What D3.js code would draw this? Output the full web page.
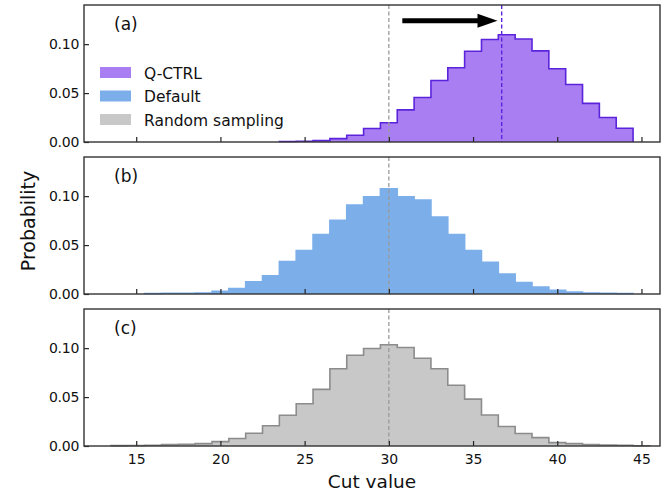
<!DOCTYPE html>
<html>
<head>
<meta charset="utf-8">
<script src="https://cdn.jsdelivr.net/npm/d3@7"></script>
<style>
  body { margin: 0; background: #fff; }
  text { font-family: "DejaVu Sans", sans-serif; fill: #111; }
</style>
</head>
<body>
<script>
var w = 664;
var h = 492;

// Cut value bins (unit width, centred on integers)
var qctrlCuts = [24, 25, 26, 27, 28, 29, 30, 31, 32, 33, 34, 35, 36, 37, 38, 39, 40, 41, 42, 43, 44];
var qctrlProbs = [0.0005, 0.0007, 0.0014, 0.0034, 0.0069, 0.0138, 0.0197, 0.0328, 0.0455, 0.0628, 0.0759,
  0.0928, 0.1048, 0.1096, 0.1052, 0.0931, 0.0749, 0.0588, 0.0395, 0.0251, 0.0141];

var defaultCuts = [16, 17, 18, 19, 20, 21, 22, 23, 24, 25, 26, 27, 28, 29, 30, 31, 32, 33, 34, 35, 36, 37, 38, 39, 40, 41, 42, 43, 44];
var defaultProbs = [0.0005, 0.0007, 0.0008, 0.001, 0.0028, 0.0055, 0.0124, 0.0186, 0.0331, 0.0445, 0.0607,
  0.0752, 0.091, 0.0993, 0.1076, 0.0993, 0.0959, 0.0786, 0.0607, 0.0445, 0.0324, 0.0203, 0.0117, 0.0072,
  0.0038, 0.0021, 0.001, 0.0007, 0.0005];

var randomCuts = [14, 15, 16, 17, 18, 19, 20, 21, 22, 23, 24, 25, 26, 27, 28, 29, 30, 31, 32, 33, 34, 35, 36, 37, 38, 39, 40, 41, 42, 43, 44, 45];
var randomProbs = [0.0004, 0.0005, 0.0007, 0.0014, 0.0018, 0.0024, 0.0045, 0.0076, 0.0131, 0.0207, 0.0314,
  0.0431, 0.0579, 0.079, 0.0928, 0.0997, 0.1034, 0.1007, 0.0897, 0.079, 0.0621, 0.0479, 0.0317, 0.02,
  0.0128, 0.0086, 0.0034, 0.0024, 0.0015, 0.001, 0.0007, 0.0003];

var xTicks = [15, 20, 25, 30, 35, 40, 45];
var yTicks = [0, 0.05, 0.10];
var legendLabels = ["Q-CTRL", "Default", "Random sampling"];
var panelLabels = ["(a)", "(b)", "(c)"];

var randomMean = 30;
var qctrlMean = 36.7;
var arrowFrom = 30.8;
var arrowTo = 36.45;
var arrowLevel = 0.124;

var margin = { left: 84, right: 4 };
var panelTops = [5, 157, 309];
var panelH = 137;

var svg = d3.select("body").append("svg")
  .attr("width", w)
  .attr("height", h);

var x = d3.scaleLinear().domain([11.9, 46.1]).range([margin.left, w - margin.right]);
var y = d3.scaleLinear().domain([0, 0.14]).range([panelH, 0]);

var panels = [
  { cuts: qctrlCuts, probs: qctrlProbs, fill: "#a97ef2", stroke: "#5b24dc" },
  { cuts: defaultCuts, probs: defaultProbs, fill: "#7cafea", stroke: "#7cafea" },
  { cuts: randomCuts, probs: randomProbs, fill: "#c8c8c8", stroke: "#8c8c8c" }
];

/**
 * Turns bins into step points (left edge, right edge at each height).
 */
function stepPoints(cuts, probs) {
  var pts = [];
  cuts.forEach(function (c, i) {
    pts.push([c - 0.5, probs[i]]);
    pts.push([c + 0.5, probs[i]]);
  });
  return pts;
}

var area = d3.area()
  .x(d => x(d[0]))
  .y0(y(0))
  .y1(d => y(d[1]));

var line = d3.line()
  .x(d => x(d[0]))
  .y(d => y(d[1]));

panels.forEach(function (p, i) {
  var g = svg.append("g")
    .attr("transform", "translate(0," + panelTops[i] + ")");

  var pts = stepPoints(p.cuts, p.probs);

  // Filled histogram
  g.append("path")
    .attr("d", area(pts))
    .attr("fill", p.fill);

  // Step outline
  var outline = [[pts[0][0], 0]].concat(pts, [[pts[pts.length - 1][0], 0]]);
  g.append("path")
    .attr("d", line(outline))
    .attr("fill", "none")
    .attr("stroke", p.stroke)
    .attr("stroke-width", 1.6);

  // Mean of random sampling
  g.append("line")
    .attr("x1", x(randomMean)).attr("x2", x(randomMean))
    .attr("y1", 0).attr("y2", panelH)
    .attr("stroke", "#9a9a9a")
    .attr("stroke-width", 1.3)
    .attr("stroke-dasharray", "4,2.5");

  if (i === 0) {
    g.append("line")
      .attr("x1", x(qctrlMean)).attr("x2", x(qctrlMean))
      .attr("y1", 0).attr("y2", panelH)
      .attr("stroke", "#5b24dc")
      .attr("stroke-width", 1.4)
      .attr("stroke-dasharray", "4,2.5");

    // Arrow showing the shift of the mean
    var ay = y(arrowLevel);
    var tip = x(arrowTo);
    g.append("line")
      .attr("x1", x(arrowFrom)).attr("x2", tip - 14)
      .attr("y1", ay).attr("y2", ay)
      .attr("stroke", "#000")
      .attr("stroke-width", 5);
    g.append("path")
      .attr("d", "M" + tip + "," + ay + "L" + (tip - 20) + "," + (ay - 7) + "L" + (tip - 20) + "," + (ay + 7) + "Z")
      .attr("fill", "#000");

    // Legend
    var legend = g.append("g").attr("transform", "translate(100,0)");
    legend.selectAll("rect")
      .data(legendLabels)
      .enter().append("rect")
      .attr("x", 0)
      .attr("y", (d, k) => 62 + k * 23.5)
      .attr("width", 31)
      .attr("height", 11)
      .attr("fill", (d, k) => panels[k].fill);
    legend.selectAll("text")
      .data(legendLabels)
      .enter().append("text")
      .attr("x", 44)
      .attr("y", (d, k) => 73.5 + k * 23.5)
      .style("font-size", "15.5px")
      .text(d => d);
  }

  // Axes with inward ticks
  g.append("g")
    .attr("transform", "translate(" + margin.left + ",0)")
    .call(d3.axisLeft(y).tickValues(yTicks).tickSize(-5).tickPadding(5).tickFormat(d3.format(".2f")))
    .call(a => a.select(".domain").remove())
    .selectAll("text").style("font-size", "14px").style("letter-spacing", "-0.3px");

  g.append("g")
    .attr("transform", "translate(0," + panelH + ")")
    .call(d3.axisBottom(x).tickValues(xTicks).tickSize(-5).tickPadding(8)
      .tickFormat(i === 2 ? d3.format("d") : ""))
    .call(a => a.select(".domain").remove())
    .selectAll("text").style("font-size", "14px");

  // Frame
  g.append("rect")
    .attr("x", margin.left)
    .attr("y", 0)
    .attr("width", w - margin.right - margin.left)
    .attr("height", panelH)
    .attr("fill", "none")
    .attr("stroke", "#333")
    .attr("stroke-width", 1.4);

  g.append("text")
    .attr("x", 114)
    .attr("y", 25)
    .style("font-size", "17px")
    .text(panelLabels[i]);
});

svg.selectAll(".tick line").attr("stroke", "#222").attr("stroke-width", 1.2);

svg.append("text")
  .attr("transform", "translate(35,221) rotate(-90)")
  .attr("text-anchor", "middle")
  .style("font-size", "19px")
  .text("Probability");

svg.append("text")
  .attr("x", 372)
  .attr("y", 488)
  .attr("text-anchor", "middle")
  .style("font-size", "18.5px")
  .text("Cut value");
</script>
</body>
</html>
